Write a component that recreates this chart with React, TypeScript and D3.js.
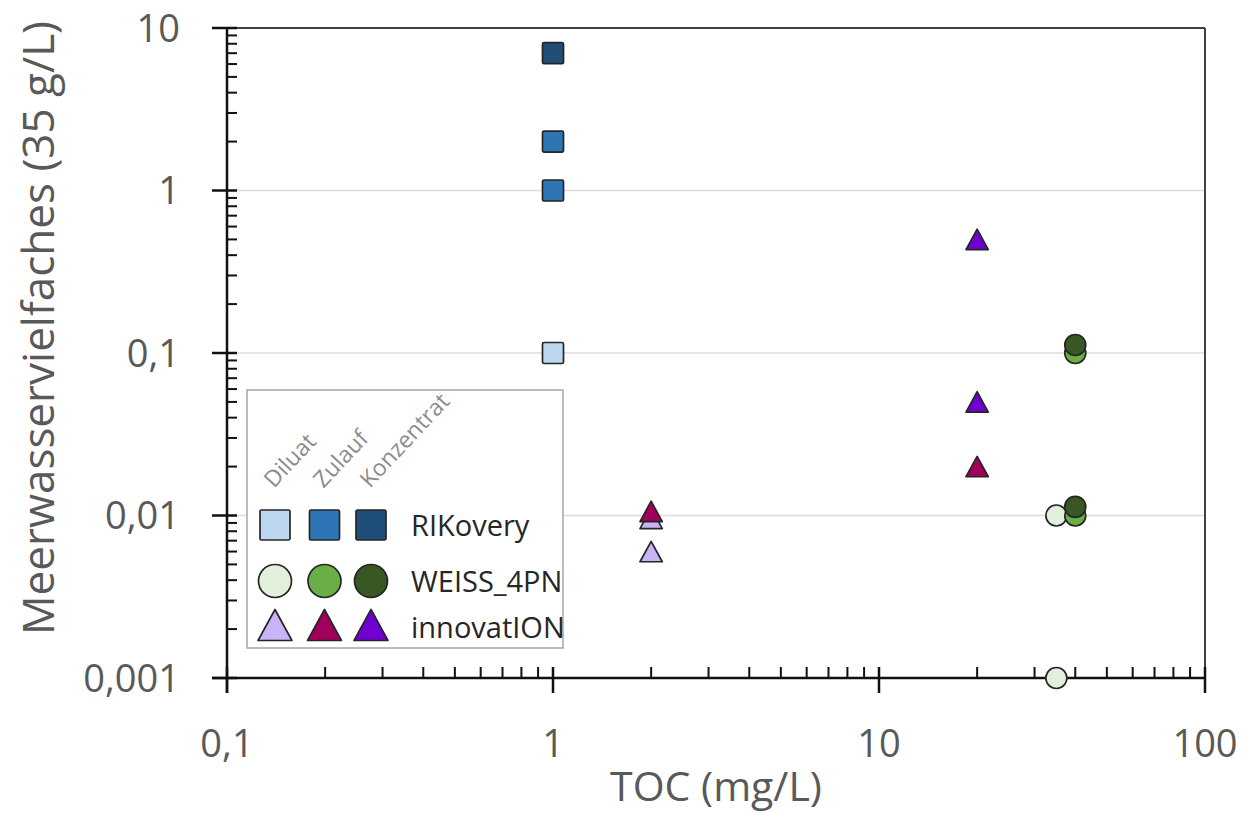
import React from "react";
import * as d3 from "d3";

// ---- data ----
const stages = ["Diluat", "Zulauf", "Konzentrat"];
const seriesNames = ["RIKovery", "WEISS_4PN", "innovatION"];
const seriesShapes = ["square", "circle", "triangle"];

const rikColors = ["#bdd7ee", "#2e75b6", "#1f4e79"];
const weissColors = ["#e2efda", "#6aae45", "#385723"];
const innoColors = ["#c8b4f6", "#a0005c", "#7000d2"];

// RIKovery
const rikDiluatX = [1];
const rikDiluatY = [0.1];
const rikZulaufX = [1, 1];
const rikZulaufY = [1, 2];
const rikKonzX = [1];
const rikKonzY = [7];
// WEISS_4PN
const weissDiluatX = [35, 35];
const weissDiluatY = [0.01, 0.001];
const weissZulaufX = [40, 40];
const weissZulaufY = [0.1, 0.01];
const weissKonzX = [40, 40];
const weissKonzY = [0.112, 0.0113];
// innovatION
const innoDiluatX = [2, 2];
const innoDiluatY = [0.0096, 0.006];
const innoZulaufX = [2, 20];
const innoZulaufY = [0.0106, 0.02];
const innoKonzX = [20, 20];
const innoKonzY = [0.5, 0.05];

const xTickValues = [0.1, 1, 10, 100];
const xTickLabels = ["0,1", "1", "10", "100"];
const yTickValues = [0.001, 0.01, 0.1, 1, 10];
const yTickLabels = ["0,001", "0,01", "0,1", "1", "10"];

const xTitle = "TOC (mg/L)";
const yTitle = "Meerwasservielfaches (35 g/L)";

// ---- layout ----
const W = 1248;
const H = 813;
const L = 227, R = 1205, T = 28, B = 678;
const FONT = "'Open Sans', 'Noto Sans', sans-serif";
const TEXT = "#595959";

const x = d3.scaleLog().domain([0.1, 100]).range([L, R]);
const y = d3.scaleLog().domain([0.001, 10]).range([B, T]);

type Group = { shape: string; color: string; xs: number[]; ys: number[] };
const groups: Group[] = [
  { shape: "square", color: rikColors[0], xs: rikDiluatX, ys: rikDiluatY },
  { shape: "square", color: rikColors[1], xs: rikZulaufX, ys: rikZulaufY },
  { shape: "square", color: rikColors[2], xs: rikKonzX, ys: rikKonzY },
  { shape: "circle", color: weissColors[0], xs: weissDiluatX, ys: weissDiluatY },
  { shape: "circle", color: weissColors[1], xs: weissZulaufX, ys: weissZulaufY },
  { shape: "circle", color: weissColors[2], xs: weissKonzX, ys: weissKonzY },
  { shape: "triangle", color: innoColors[0], xs: innoDiluatX, ys: innoDiluatY },
  { shape: "triangle", color: innoColors[1], xs: innoZulaufX, ys: innoZulaufY },
  { shape: "triangle", color: innoColors[2], xs: innoKonzX, ys: innoKonzY },
];

function Marker({ shape, cx, cy, size, fill }: { shape: string; cx: number; cy: number; size: number; fill: string }) {
  const stroke = "#262626";
  const sw = 1.7;
  if (shape === "square") {
    return <rect x={cx - size / 2} y={cy - size / 2} width={size} height={size} rx={1.5} fill={fill} stroke={stroke} strokeWidth={sw} />;
  }
  if (shape === "circle") {
    return <circle cx={cx} cy={cy} r={size / 2} fill={fill} stroke={stroke} strokeWidth={sw} />;
  }
  const h = size * 0.97;
  const w = size * 1.06;
  const p = `M${cx},${cy - h / 2} L${cx + w / 2},${cy + h / 2} L${cx - w / 2},${cy + h / 2} Z`;
  return <path d={p} fill={fill} stroke={stroke} strokeWidth={sw} strokeLinejoin="round" />;
}

function minorTicks(lo: number, hi: number): number[] {
  const out: number[] = [];
  for (let e = Math.log10(lo); e < Math.log10(hi); e++) {
    for (let k = 2; k <= 9; k++) out.push(k * Math.pow(10, e));
  }
  return out;
}

export default function App() {
  const xMinor = minorTicks(0.1, 100);
  const yMinor = minorTicks(0.001, 10);
  const gridVals = [0.01, 0.1, 1];

  const legX = 247, legY = 390, legW = 316, legH = 258;
  const colX = [275, 324.5, 371];
  const rowY = [525, 581, 625];
  const legSizes = [30, 33, 32];
  const labelBase = [536, 592, 638];
  const allColors = [rikColors, weissColors, innoColors];

  return (
    <svg width={W} height={H} style={{ position: "absolute", left: 0, top: 0, background: "#fff" }} fontFamily={FONT}>
      <rect x={0} y={0} width={W} height={H} fill="#fff" />
      {/* grid */}
      {gridVals.map((v) => (
        <line key={"g" + v} x1={L} x2={R} y1={y(v)} y2={y(v)} stroke="#dcdcdc" strokeWidth={1.5} />
      ))}
      {/* frame top/right */}
      <line x1={212} x2={R} y1={T} y2={T} stroke="#404040" strokeWidth={2} />
      <line x1={R} x2={R} y1={T} y2={B} stroke="#404040" strokeWidth={2} />

      {/* legend box */}
      <rect x={legX} y={legY} width={legW} height={legH} fill="#fff" stroke="#a6a6a6" strokeWidth={1.5} />
      {stages.map((s, i) => (
        <text key={s} transform={`translate(${colX[i] - 1},${489}) rotate(-47)`} fontSize={23} fill="#8c8c8c">
          {s}
        </text>
      ))}
      {seriesNames.map((n, r) => (
        <g key={n}>
          {stages.map((s, c) => (
            <Marker key={s} shape={seriesShapes[r]} cx={colX[c]} cy={rowY[r]} size={legSizes[r]} fill={allColors[r][c]} />
          ))}
          <text x={411} y={labelBase[r]} fontSize={29} fill="#262626">
            {n}
          </text>
        </g>
      ))}

      {/* axes */}
      <line x1={L} x2={L} y1={T} y2={B + 15} stroke="#111" strokeWidth={2.5} />
      <line x1={L - 15} x2={R} y1={B} y2={B} stroke="#111" strokeWidth={2.5} />
      {yMinor.map((v) => (
        <line key={"ym" + v} x1={L} x2={L + 10} y1={y(v)} y2={y(v)} stroke="#111" strokeWidth={2} />
      ))}
      {yTickValues.map((v, i) => (
        <g key={"yt" + v}>
          <line x1={L - 15} x2={L + 10} y1={y(v)} y2={y(v)} stroke="#111" strokeWidth={2.5} />
          <text x={180} y={y(v)} dy="0.36em" textAnchor="end" fontSize={38} fill={TEXT}>
            {yTickLabels[i]}
          </text>
        </g>
      ))}
      {xMinor.map((v) => (
        <line key={"xm" + v} x1={x(v)} x2={x(v)} y1={B} y2={B - 11} stroke="#111" strokeWidth={2} />
      ))}
      {xTickValues.map((v, i) => (
        <g key={"xt" + v}>
          <line x1={x(v)} x2={x(v)} y1={B - 11} y2={B + 15} stroke="#111" strokeWidth={2.5} />
          <text x={x(v)} y={757} textAnchor="middle" fontSize={38} fill={TEXT}>
            {xTickLabels[i]}
          </text>
        </g>
      ))}

      {/* titles */}
      <text x={(L + R) / 2} y={801} textAnchor="middle" fontSize={41} fill={TEXT}>
        {xTitle}
      </text>
      <text transform={`translate(54,${328}) rotate(-90)`} textAnchor="middle" fontSize={44} fill={TEXT}>
        {yTitle}
      </text>

      {/* data */}
      {groups.map((g, gi) =>
        g.xs.map((xv, j) => (
          <Marker key={gi + "-" + j} shape={g.shape} cx={x(xv)} cy={y(g.ys[j])} size={21} fill={g.color} />
        ))
      )}
    </svg>
  );
}
